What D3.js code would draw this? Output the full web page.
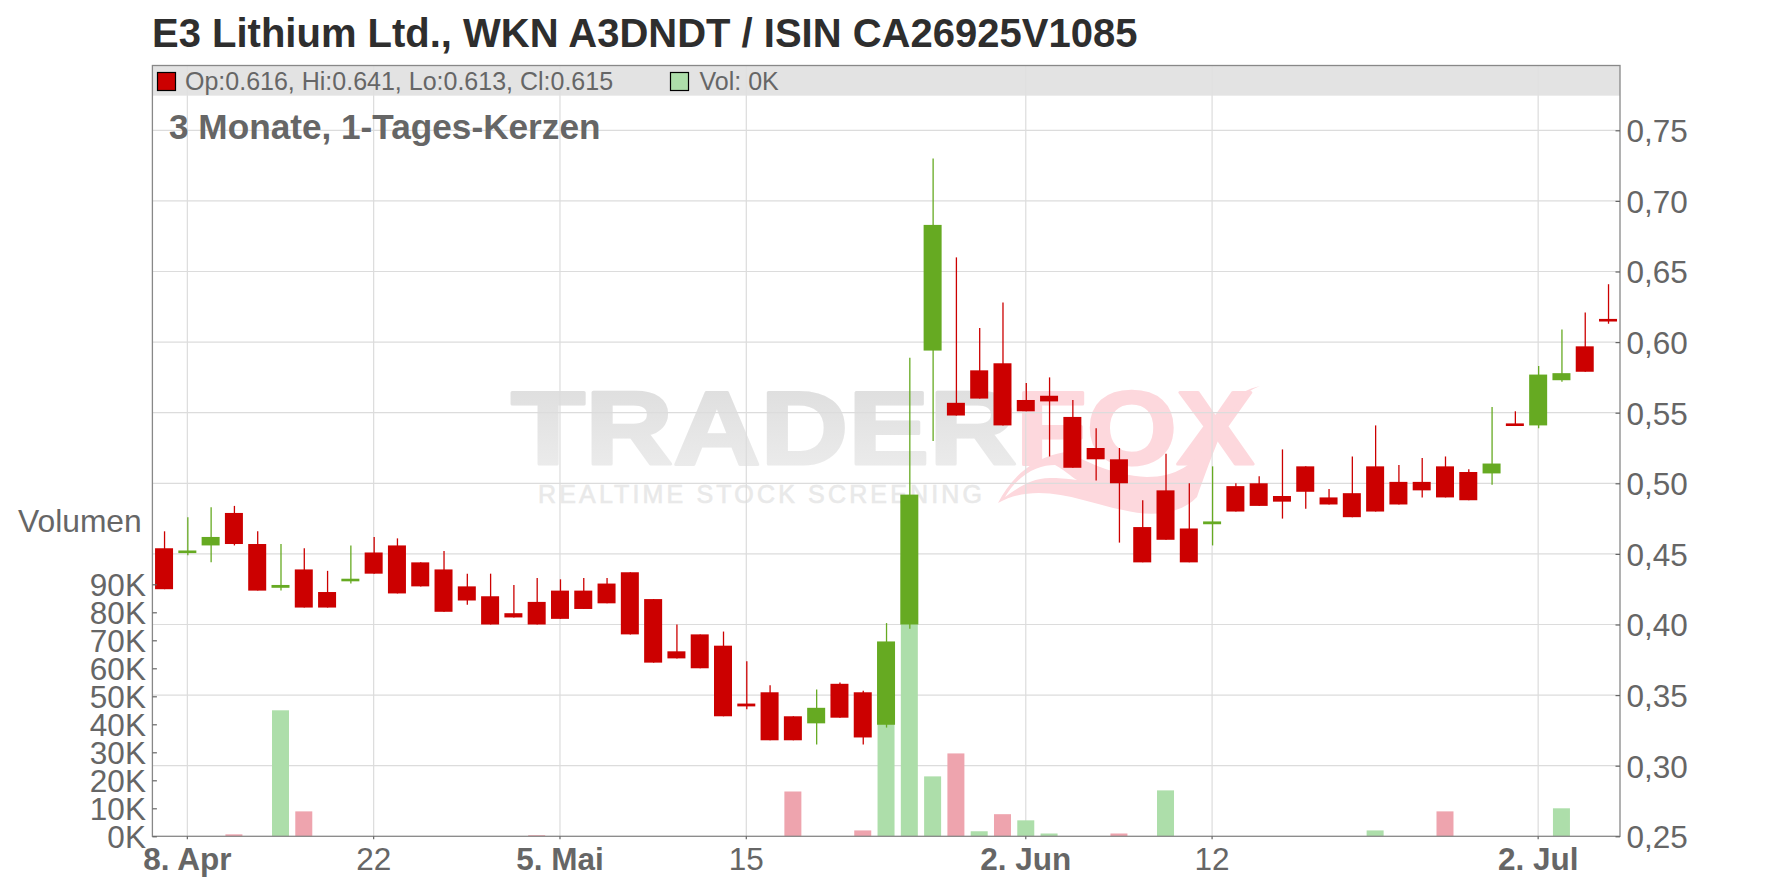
<!DOCTYPE html>
<html>
<head>
<meta charset="utf-8">
<script src="https://cdn.jsdelivr.net/npm/d3@7"></script>
<style>
html,body{margin:0;padding:0;background:#fff}
svg{display:block}
text{font-family:"Liberation Sans",Arial,sans-serif}
</style>
</head>
<body>
<svg id="chart" width="1776" height="888"></svg>
<script>
const titleText = "E3 Lithium Ltd., WKN A3DNDT / ISIN CA26925V1085";
const subtitleText = "3 Monate, 1-Tages-Kerzen";
const legendPriceText = "Op:0.616, Hi:0.641, Lo:0.613, Cl:0.615";
const legendVolumeText = "Vol: 0K";
const volumeTitle = "Volumen";

const opens  = [.454,.451,.456,.479,.457,.426,.439,.423,.431,.451,.456,.444,.439,.427,.420,.408,.416,.424,.424,.429,.437,.418,.381,.393,.385,.344,.352,.335,.330,.358,.352,.329,.400,.594,.557,.580,.585,.559,.562,.547,.525,.517,.469,.495,.468,.471,.498,.500,.491,.512,.490,.493,.512,.501,.501,.512,.508,.507,.542,.541,.573,.597,.616];
const highs  = [.466,.476,.483,.484,.466,.457,.454,.438,.456,.462,.461,.444,.452,.436,.436,.428,.433,.432,.433,.433,.437,.418,.400,.393,.395,.374,.357,.335,.354,.359,.353,.401,.589,.730,.660,.610,.628,.571,.575,.559,.539,.525,.488,.521,.500,.512,.500,.505,.524,.512,.496,.519,.541,.513,.518,.519,.510,.554,.551,.583,.609,.621,.641];
const lows   = [.425,.449,.444,.456,.424,.424,.412,.412,.429,.436,.422,.427,.409,.414,.400,.405,.400,.404,.411,.415,.393,.373,.376,.369,.335,.340,.318,.318,.315,.334,.315,.327,.397,.530,.548,.560,.541,.551,.519,.511,.502,.458,.444,.460,.444,.456,.480,.484,.475,.482,.485,.476,.480,.485,.490,.490,.488,.499,.541,.539,.572,.579,.613];
const closes = [.425,.452,.462,.457,.424,.428,.412,.412,.432,.436,.422,.427,.409,.417,.400,.405,.400,.404,.411,.415,.393,.373,.376,.369,.335,.342,.318,.318,.341,.334,.320,.388,.492,.683,.548,.560,.541,.551,.558,.511,.517,.500,.444,.460,.444,.473,.480,.484,.487,.494,.485,.476,.480,.485,.495,.490,.488,.514,.541,.577,.578,.579,.615];
const volumes = [0,0,0,700,0,45000,8900,0,0,0,0,0,0,0,0,0,400,0,0,0,0,0,0,0,0,0,0,16000,0,0,2100,65000,100000,21400,29600,1800,7900,5700,1000,0,0,1000,0,16400,0,0,0,0,0,0,0,0,2100,0,0,8900,0,0,0,0,10000,0,0];
const volumeUp = [0,0,0,0,0,1,0,0,0,0,0,0,0,0,0,0,0,0,0,0,0,0,0,0,0,0,0,0,0,0,0,1,1,1,0,1,0,1,1,0,0,0,0,1,0,0,0,0,0,0,0,0,1,0,0,0,0,0,0,0,1,0,0];

const xTickIndexes = [1,9,17,25,37,45,59];
const xTickLabels = ["8. Apr","22","5. Mai","15","2. Jun","12","2. Jul"];
const priceTicks = [0.25,0.30,0.35,0.40,0.45,0.50,0.55,0.60,0.65,0.70,0.75];
const volumeTicks = [0,10000,20000,30000,40000,50000,60000,70000,80000,90000];

const RED="#cc0000", GREEN="#66aa22", VOL_RED="#eea4ae", VOL_GREEN="#addeaa";
const GRID="#dcdcdc", FRAME="#888888", TEXT="#666666";
const pLeft=152.4, pRight=1620, pTop=65.5, pBottom=836.3, bandBottom=95.7;

const svg=d3.select("#chart");
const idx=d3.range(opens.length);
const x=d3.scaleBand().domain(idx).range([pLeft,pLeft+23.29*opens.length]).padding(0);
const cx=i=>x(i)+x.bandwidth()/2;
const y=d3.scaleLinear().domain([0.25,0.75]).range([pBottom,130.3]);
const yVol=d3.scaleLinear().domain([0,90000]).range([pBottom,584.3]);

// watermark
const defs=svg.append("defs");
const gg=defs.append("linearGradient").attr("id","wmGrey").attr("x1",0).attr("y1",0).attr("x2",0).attr("y2",1);
gg.append("stop").attr("offset","0").attr("stop-color","#dcdcdc");
gg.append("stop").attr("offset","1").attr("stop-color","#eeeeee");
const wm=svg.append("g").attr("stroke-linejoin","round");
wm.append("text").text("TRADER").attr("x",511).attr("y",464).attr("font-size",103).attr("font-weight","bold")
  .attr("textLength",506).attr("lengthAdjust","spacingAndGlyphs").attr("fill","url(#wmGrey)").attr("stroke","url(#wmGrey)").attr("stroke-width",3);
wm.append("text").text("FOX").attr("x",1016).attr("y",464).attr("font-size",103).attr("font-weight","bold")
  .attr("textLength",238).attr("lengthAdjust","spacingAndGlyphs").attr("fill","#fdd8dd").attr("stroke","#fdd8dd").attr("stroke-width",3);
wm.append("path").attr("fill","#fdd8dd")
  .attr("d","M998,503 C1010,480 1030,458 1065,452 C1090,462 1110,475 1147,477 C1175,477 1195,465 1210,440 C1225,405 1235,392 1260,386 C1235,395 1225,420 1197,497 C1180,515 1150,517 1123,510 C1085,503 1040,480 998,503 Z");
wm.append("path").attr("fill","#ffffff")
  .attr("d","M1005,497 C1020,472 1040,465 1055,465 C1065,470 1070,476 1077,480 C1060,478 1055,478 1050,478 C1030,478 1015,490 1005,497 Z");
wm.append("text").text("REALTIME STOCK SCREENING").attr("x",538).attr("y",503).attr("font-size",25)
  .attr("textLength",444).attr("fill","#e9e9e9").attr("stroke","#e9e9e9").attr("stroke-width",.6);

// grid
const grid=svg.append("g").attr("stroke",GRID).attr("stroke-width",1.2).attr("fill","none");
grid.selectAll("line.h").data(priceTicks.slice(1)).join("line").attr("class","h")
  .attr("x1",pLeft).attr("x2",pRight).attr("y1",d=>y(d)).attr("y2",d=>y(d));
grid.selectAll("line.v").data(xTickIndexes).join("line").attr("class","v")
  .attr("x1",d=>cx(d)).attr("x2",d=>cx(d)).attr("y1",pTop).attr("y2",pBottom);

// legend band
svg.append("rect").attr("x",pLeft).attr("y",pTop).attr("width",pRight-pLeft).attr("height",bandBottom-pTop).attr("fill","#e0e0e0").attr("fill-opacity",.9);

// volume
svg.append("g").selectAll("rect").data(idx.filter(i=>volumes[i]>0)).join("rect")
  .attr("x",i=>cx(i)-8.5).attr("width",17)
  .attr("y",i=>yVol(volumes[i])).attr("height",i=>yVol(0)-yVol(volumes[i]))
  .attr("fill",i=>volumeUp[i]?VOL_GREEN:VOL_RED);

// candles
const candles=svg.append("g");
const col=i=>closes[i]>=opens[i]?GREEN:RED;
const bodyH=i=>Math.max(2.6,Math.abs(y(opens[i])-y(closes[i])));
candles.selectAll("line").data(idx).join("line")
  .attr("x1",i=>cx(i)+.5).attr("x2",i=>cx(i)+.5).attr("y1",i=>y(highs[i])).attr("y2",i=>y(lows[i]))
  .attr("stroke",col).attr("stroke-width",1.3);
candles.selectAll("rect").data(idx).join("rect")
  .attr("x",i=>cx(i)-9).attr("width",18)
  .attr("y",i=>(y(opens[i])+y(closes[i]))/2-bodyH(i)/2)
  .attr("height",bodyH)
  .attr("fill",col);

// frame
svg.append("rect").attr("x",pLeft).attr("y",pTop).attr("width",pRight-pLeft).attr("height",pBottom-pTop)
  .attr("fill","none").attr("stroke",FRAME).attr("stroke-width",1.3);

// axes
function styleAxis(g){
  g.select(".domain").remove();
  g.selectAll(".tick line").attr("stroke","#666").attr("stroke-width",1.2);
  g.selectAll(".tick text").attr("fill",TEXT).attr("font-size",31.5).attr("font-family",'"Liberation Sans",Arial,sans-serif');
}
const priceFmt=d=>d3.format(".2f")(d).replace(".",",");
svg.append("g").attr("transform",`translate(${pRight},0)`)
  .call(d3.axisLeft(y).tickValues(priceTicks).tickFormat(priceFmt).tickSize(4.5))
  .call(styleAxis)
  .call(g=>g.selectAll(".tick text").attr("text-anchor","start").attr("x",6.5).attr("dy","0.36em"));
svg.append("g").attr("transform",`translate(${pLeft},0)`)
  .call(d3.axisRight(yVol).tickValues(volumeTicks).tickFormat(d=>(d/1000)+"K").tickSize(4.5))
  .call(styleAxis)
  .call(g=>g.selectAll(".tick text").attr("text-anchor","end").attr("x",-6.5).attr("dy","0.36em"));
const xLabel=d=>xTickLabels[xTickIndexes.indexOf(d)];
svg.append("g").attr("transform",`translate(0,${pBottom})`)
  .call(d3.axisBottom(x).tickValues(xTickIndexes).tickFormat(xLabel).tickSize(3))
  .call(styleAxis)
  .call(g=>g.selectAll(".tick text").attr("y",33.7).attr("dy",0)
     .attr("font-weight",d=>xLabel(d).includes(".")?"bold":"normal"));

// texts
svg.append("text").text(titleText).attr("x",152).attr("y",47).attr("font-size",40).attr("font-weight","bold").attr("fill","#2e2e2e");
svg.append("text").text(subtitleText).attr("x",169).attr("y",139).attr("font-size",35.2).attr("font-weight","bold").attr("fill",TEXT);
svg.append("text").text(volumeTitle).attr("x",18).attr("y",532).attr("font-size",31.8).attr("fill",TEXT);
svg.append("rect").attr("x",157.5).attr("y",72.5).attr("width",18).attr("height",18).attr("fill",RED).attr("stroke","#000").attr("stroke-width",1.2);
svg.append("text").text(legendPriceText).attr("x",185).attr("y",90).attr("font-size",25).attr("fill",TEXT);
svg.append("rect").attr("x",670.5).attr("y",72.5).attr("width",18).attr("height",18).attr("fill",VOL_GREEN).attr("stroke","#000").attr("stroke-width",1.2);
svg.append("text").text(legendVolumeText).attr("x",699.5).attr("y",90).attr("font-size",25).attr("fill",TEXT);
</script>
</body>
</html>
